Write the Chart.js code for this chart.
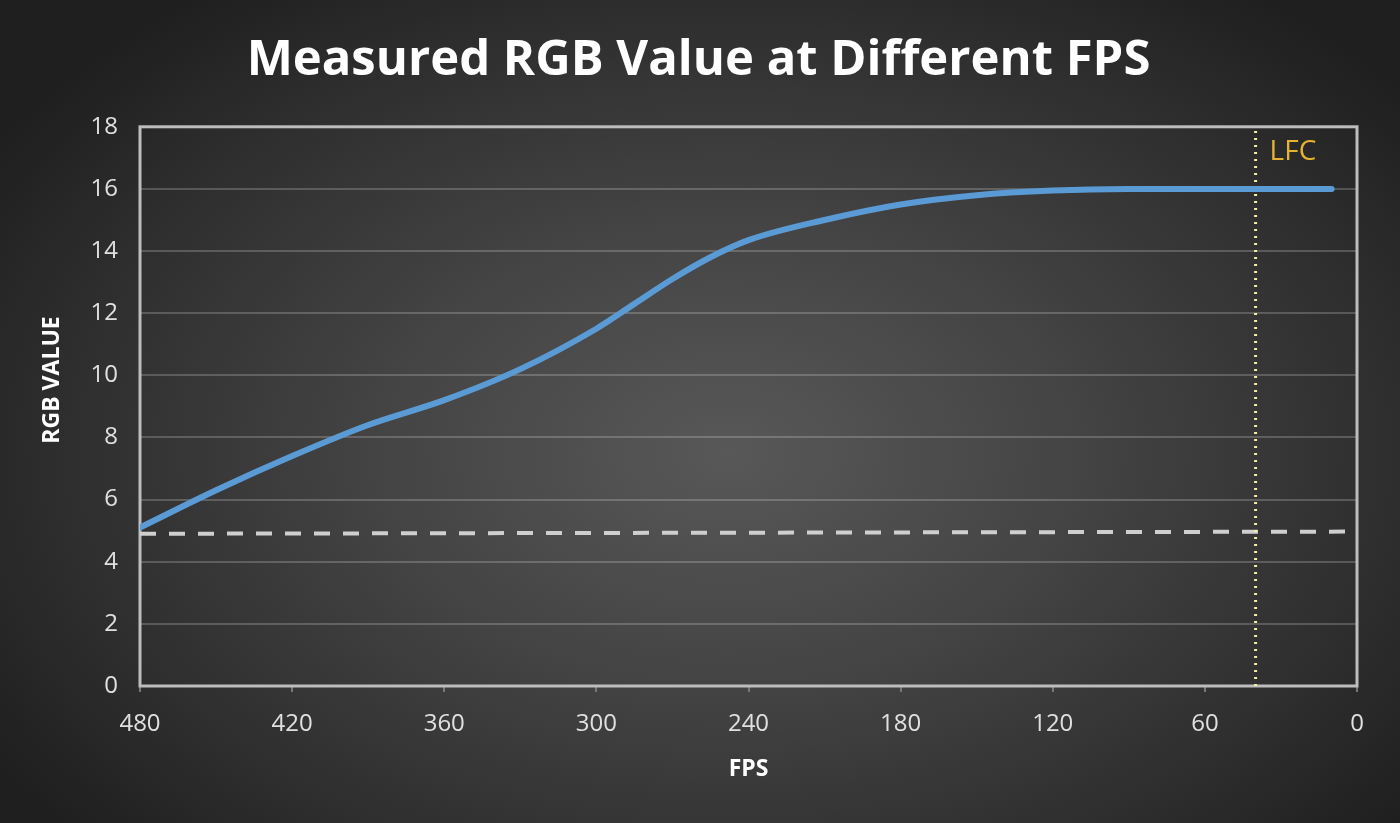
<!DOCTYPE html>
<html>
<head>
<meta charset="utf-8">
<script src="https://cdn.jsdelivr.net/npm/chart.js@4.4.1/dist/chart.umd.min.js"></script>
<style>
  html, body { margin: 0; padding: 0; width: 1400px; height: 823px; overflow: hidden;
    background: radial-gradient(ellipse 62% 70% at 52% 55%, #585858 0%, #444 40%, #2c2c2c 80%, #1f1f1f 100%); }
  #wrap { width: 1400px; height: 823px; position: relative; }
  canvas { display: block; }
</style>
</head>
<body>
<div id="wrap"><canvas id="c" width="1400" height="823"></canvas></div>
<script>
// ---- data ----
const fps = [480, 450, 420, 390, 360, 330, 300, 285, 270, 255, 240, 210, 180, 150, 120, 90, 60, 10];
const rgbValue = [5.1, 6.3, 7.4, 8.4, 9.2, 10.2, 11.5, 12.3, 13.1, 13.8, 14.35, 15.0, 15.5, 15.8, 15.95, 16.0, 16.0, 16.0];
const thresholdX = [480, 0];
const thresholdY = [4.9, 4.97];
const lfcFps = 40;
const lfcLabel = 'LFC';
const yTitle = 'RGB VALUE';
const yTicks = [0, 2, 4, 6, 8, 10, 12, 14, 16, 18];
const xTicks = [480, 420, 360, 300, 240, 180, 120, 60, 0];

const curve = fps.map((x, i) => ({ x: x, y: rgbValue[i] }));
const threshold = thresholdX.map((x, i) => ({ x: x, y: thresholdY[i] }));
const lfcLine = [{ x: lfcFps, y: 0 }, { x: lfcFps, y: 18 }];

const frame = {
  id: 'frame',
  beforeDatasetsDraw(chart) {
    const { ctx, chartArea: a } = chart;
    ctx.save();
    ctx.strokeStyle = '#bdbdbd';
    ctx.lineWidth = 3;
    ctx.strokeRect(a.left, a.top, a.right - a.left, a.bottom - a.top);
    ctx.restore();
  },
  afterDatasetsDraw(chart) {
    const { ctx, scales } = chart;
    const x = scales.x.getPixelForValue(lfcFps);
    ctx.save();
    ctx.fillStyle = '#e6b32e';
    ctx.font = '28px "Open Sans"';
    ctx.textBaseline = 'middle';
    ctx.textAlign = 'left';
    ctx.fillText(lfcLabel, x + 14, scales.y.getPixelForValue(17.2));
    // y-axis title
    ctx.translate(52, scales.y.getPixelForValue(9.85));
    ctx.rotate(-Math.PI / 2);
    ctx.fillStyle = '#ffffff';
    ctx.font = 'bold 23px "Open Sans"';
    ctx.textAlign = 'center';
    ctx.fillText(yTitle, 0, 0);
    ctx.restore();
  }
};

new Chart(document.getElementById('c'), {
  type: 'line',
  data: {
    datasets: [
      { data: threshold, borderColor: '#cfcfcf', borderWidth: 4, borderDash: [16, 13], pointRadius: 0, order: 3 },
      { data: lfcLine, borderColor: '#f4f0a0', borderWidth: 3, borderDash: [2, 5], pointRadius: 0, order: 2 },
      { data: curve, borderColor: '#5b9bd5', borderWidth: 6, pointRadius: 0, cubicInterpolationMode: 'monotone', borderCapStyle: 'round', order: 1 }
    ]
  },
  options: {
    responsive: false,
    animation: false,
    devicePixelRatio: 1,
    layout: { padding: { left: 40, right: 43, top: 0, bottom: 40 } },
    plugins: {
      legend: { display: false },
      tooltip: { enabled: false },
      title: {
        display: true,
        text: 'Measured RGB Value at Different FPS',
        color: '#ffffff',
        font: { family: 'Open Sans', size: 49, weight: 'bold', lineHeight: 1.2 },
        padding: { top: 32, bottom: 36 }
      }
    },
    scales: {
      x: {
        type: 'linear', reverse: true, min: 0, max: 480,
        afterBuildTicks(s) { s.ticks = xTicks.map(v => ({ value: v })); },
        ticks: { color: '#e0e0e0', font: { family: 'Open Sans', size: 24 }, padding: 18 },
        grid: { drawOnChartArea: false, drawTicks: true, tickLength: 6, color: '#777', lineWidth: 2 },
        border: { display: false },
        title: { display: true, text: 'FPS', color: '#ffffff', font: { family: 'Open Sans', size: 23, weight: 'bold' }, padding: { top: 6, bottom: 0 } },
        afterFit(s) { s.height = 823 - 686 - 40; }
      },
      y: {
        min: 0, max: 18,
        afterBuildTicks(s) { s.ticks = yTicks.map(v => ({ value: v })); },
        ticks: { color: '#e0e0e0', font: { family: 'Open Sans', size: 24 }, padding: 22 },
        grid: { color: 'rgba(255,255,255,0.2)', lineWidth: 2, drawTicks: false },
        border: { display: false },
        title: { display: false },
        afterFit(s) { s.width = 140 - 40; }
      }
    }
  },
  plugins: [frame]
});
</script>
</body>
</html>
